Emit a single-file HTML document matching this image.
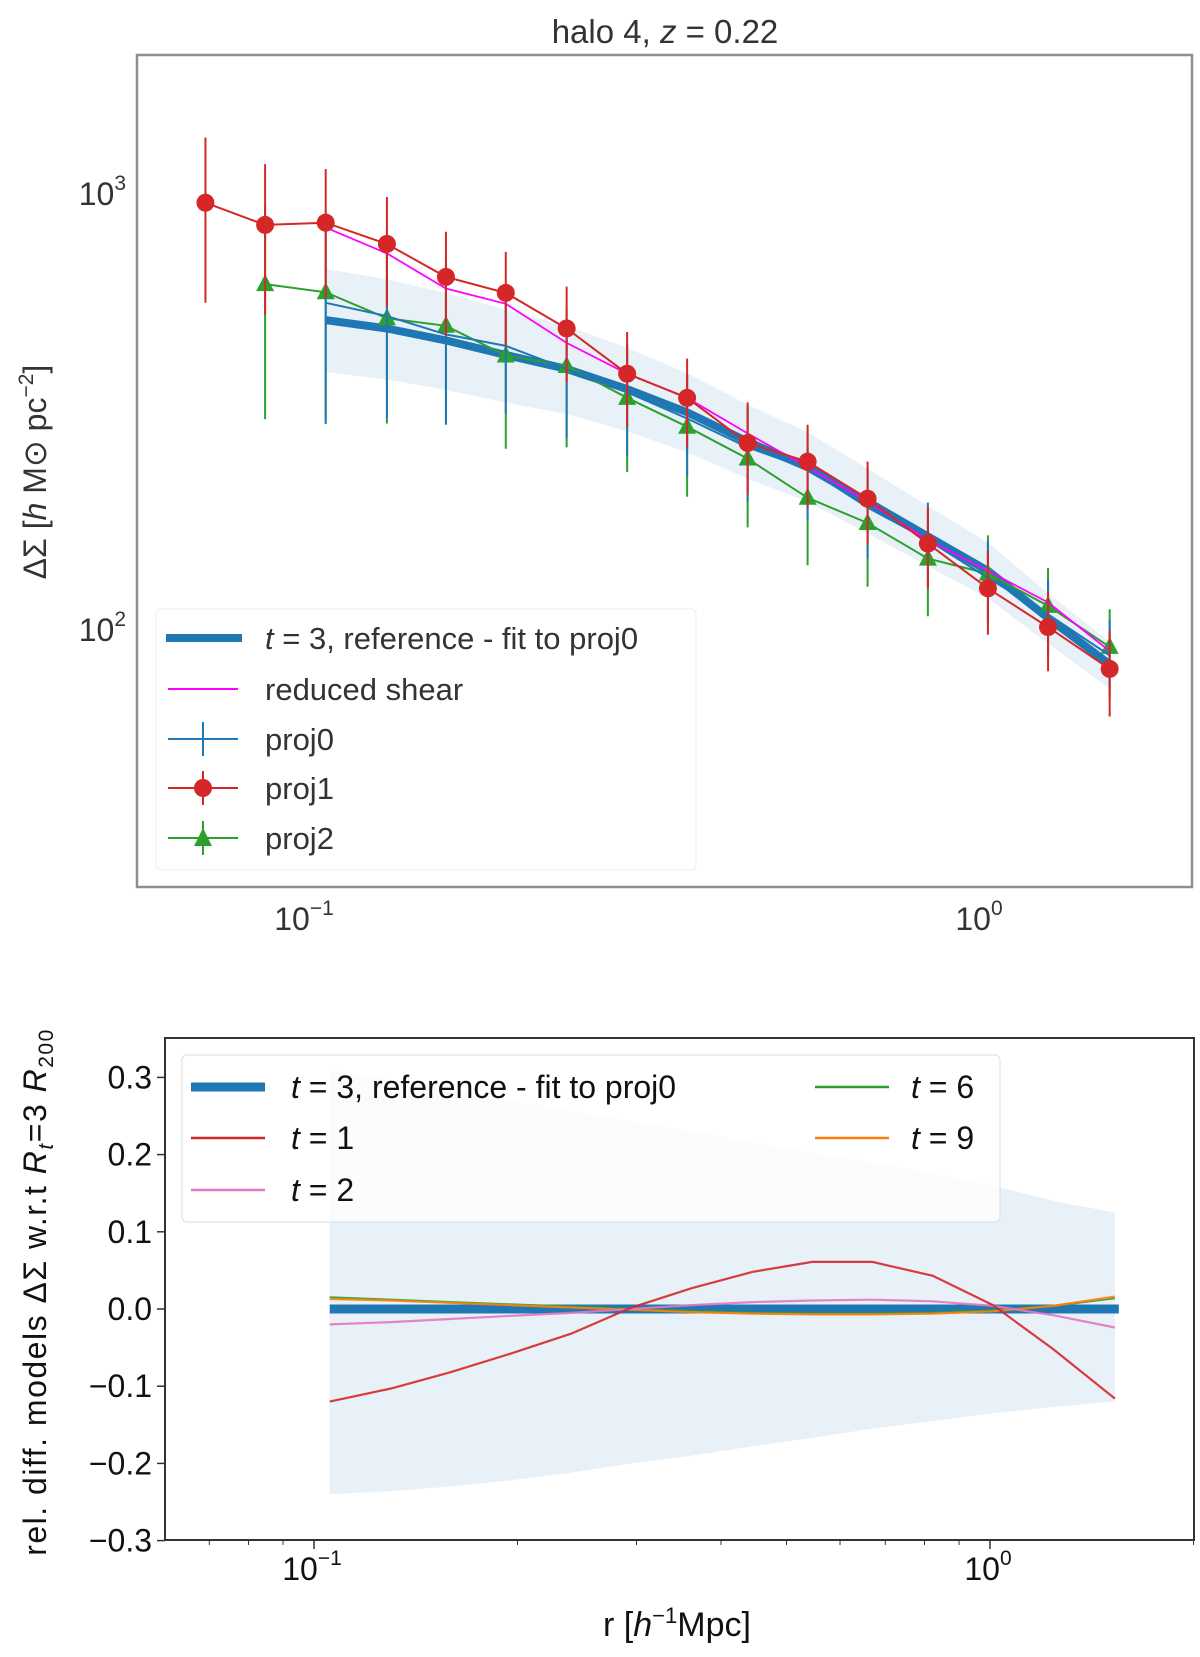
<!DOCTYPE html>
<html><head><meta charset="utf-8"><style>
html,body{margin:0;padding:0;background:#fff;}
svg{display:block;font-family:"Liberation Sans","DejaVu Sans",sans-serif;}
</style></head><body>
<svg id="fig" width="1200" height="1657" viewBox="0 0 1200 1657" xmlns="http://www.w3.org/2000/svg"></svg>
<script>
// ---- data ----
const radii = [0.070,0.0858,0.1055,0.130,0.159,0.195,0.240,0.295,0.362,0.445,0.546,0.670,0.823,1.01,1.24,1.53];
const proj1 = [950,845,855,764,642,590,489,385,339,267,242,199,157,124,101,81];
const proj1Err = [390,320,280,215,173,143,121,95,78,64,52,43,33,27,21,18];
const proj2 = [null,618,592,516,496,424,401,339,291,246,200,175,145,134,113,91];
const proj2Err = [null,315,290,220,200,165,140,110,90,75,60,50,38,30,25,20];
const proj0 = [null,null,560,522,474,446,395,349,304,261,233,190,160,131,108,87];
const proj0Err = [null,null,265,218,180,133,121,100,80,65,55,45,35,28,22,18];
const reducedShear = [null,null,833,727,604,557,453,385,339,281,235,196,160,136,115,89];
const refFit = [null,null,511,489,459,425,395,355,314,269,235,196,163,136,106,83];
const bandUp = [null,null,0.31,0.297,0.284,0.27,0.257,0.243,0.23,0.216,0.203,0.19,0.176,0.16,0.14,0.125];
const bandLo = [null,null,-0.24,-0.236,-0.23,-0.222,-0.212,-0.20,-0.19,-0.178,-0.167,-0.155,-0.145,-0.135,-0.127,-0.12];
const t1 = [null,null,-0.12,-0.103,-0.082,-0.058,-0.032,0.002,0.027,0.048,0.061,0.061,0.043,0.005,-0.052,-0.116];
const t2 = [null,null,-0.02,-0.017,-0.013,-0.009,-0.005,0.000,0.005,0.009,0.011,0.012,0.010,0.004,-0.008,-0.024];
const t6 = [null,null,0.015,0.012,0.009,0.006,0.003,0.000,-0.003,-0.005,-0.006,-0.006,-0.005,-0.002,0.004,0.014];
const t9 = [null,null,0.013,0.011,0.008,0.005,0.002,-0.001,-0.004,-0.006,-0.007,-0.007,-0.006,-0.003,0.004,0.016];
const bottomYTicks = [0.3,0.2,0.1,0.0,-0.1,-0.2,-0.3];
const bottomYTickLabels = ["0.3","0.2","0.1","0.0","\u22120.1","\u22120.2","\u22120.3"];

const NS="http://www.w3.org/2000/svg";
const svg=document.getElementById('fig');
function mk(tag,attrs,parent,text){const e=document.createElementNS(NS,tag);for(const k in attrs)e.setAttribute(k,attrs[k]);if(text!==undefined)e.textContent=text;(parent||svg).appendChild(e);return e;}

// ---- top axes ----
const TL=137,TR=1192,TT=55,TB=887;
const tx=v=>310+(Math.log10(v)+1)*675;
const ty=v=>193-(Math.log10(v)-3)*436;
const gTop=mk('g',{});


mk('rect',{x:TL,y:TT,width:TR-TL,height:TB-TT,fill:'#fff',stroke:'#8a9097','stroke-width':2.5},gTop);
const title=mk('text',{x:665,y:43,'font-size':33,'text-anchor':'middle',fill:'#333'},gTop);


title.innerHTML='halo 4, <tspan font-style="italic">z</tspan> = 0.22';

function pts(xs,ys,fx,fy){const a=[];for(let i=0;i<xs.length;i++){if(ys[i]!==null)a.push(fx(xs[i]).toFixed(1)+','+fy(ys[i]).toFixed(1));}return a;}
{const up=[],lo=[];for(let i=0;i<radii.length;i++){if(refFit[i]===null)continue;up.push(tx(radii[i])+','+ty(refFit[i]*(1+bandUp[i])));lo.unshift(tx(radii[i])+','+ty(refFit[i]*(1+bandLo[i])));}
const b=mk('polygon',{points:up.concat(lo).join(' '),fill:'#1f77b4','fill-opacity':0.1},gTop);

}
const refL=mk('polyline',{points:pts(radii,refFit,tx,ty).join(' '),fill:'none',stroke:'#1f77b4','stroke-width':8,'stroke-linejoin':'round'},gTop);


function errSeries(vals,errs,color,name,marker){
  const g=mk('g',{},gTop);
  
  
  for(let i=0;i<radii.length;i++){if(vals[i]===null)continue;const x=tx(radii[i]);
    const e=mk('line',{x1:x,x2:x,y1:ty(vals[i]+errs[i]),y2:ty(Math.max(vals[i]-errs[i],1)),stroke:color,'stroke-width':2},g);
    
    }
  mk('polyline',{points:pts(radii,vals,tx,ty).join(' '),fill:'none',stroke:color,'stroke-width':2},g);
  for(let i=0;i<radii.length;i++){if(vals[i]===null)continue;const x=tx(radii[i]),y=ty(vals[i]);let m;
    if(marker==='o')m=mk('circle',{cx:x,cy:y,r:9,fill:color},g);
    else if(marker==='^')m=mk('polygon',{points:`${x},${y-10} ${x-9},${y+7} ${x+9},${y+7}`,fill:color},g);
    if(m){
    }}
}
errSeries(proj2,proj2Err,'#2ca02c','proj2-series','^');
errSeries(proj0,proj0Err,'#1f77b4','proj0-series','');
const rs=mk('polyline',{points:pts(radii,reducedShear,tx,ty).join(' '),fill:'none',stroke:'#ff00ff','stroke-width':1.8},gTop);


errSeries(proj1,proj1Err,'#d62728','proj1-series','o');
[[1000,'3'],[100,'2']].forEach(([v,e])=>{const t=mk('text',{x:126,y:ty(v)+12,'font-size':32,'text-anchor':'end',fill:'#333'},gTop);


t.innerHTML='10<tspan dy="-15" font-size="21">'+e+'</tspan>';});
[[0.1,'\u22121'],[1,'0']].forEach(([v,e])=>{const t=mk('text',{x:tx(v)-6,y:930,'font-size':32,'text-anchor':'middle',fill:'#333'},gTop);


t.innerHTML='10<tspan dy="-15" font-size="21">'+e+'</tspan>';});
{const t=mk('text',{transform:'translate(46,472) rotate(-90)','font-size':32,'text-anchor':'middle',fill:'#333'},gTop);


t.innerHTML='\u0394\u03A3 [<tspan font-style="italic">h</tspan> M\u2299 pc<tspan dy="-13" font-size="21">\u22122</tspan><tspan dy="13">]</tspan>';}
{const g=mk('g',{},gTop);


mk('rect',{x:156,y:609,width:540,height:261,rx:5,fill:'#fff','fill-opacity':0.85,stroke:'#eee'},g);
const rows=[[638,'ref'],[689,'rs'],[739,'p0'],[788,'p1'],[838,'p2']];
const labels={ref:'<tspan font-style="italic">t</tspan> = 3, reference - fit to proj0',rs:'reduced shear',p0:'proj0',p1:'proj1',p2:'proj2'};
rows.forEach(([y,k])=>{
 if(k==='ref')mk('line',{x1:166,x2:242,y1:y,y2:y,stroke:'#1f77b4','stroke-width':8},g);
 if(k==='rs')mk('line',{x1:168,x2:238,y1:y,y2:y,stroke:'#ff00ff','stroke-width':2},g);
 if(k==='p0'){mk('line',{x1:168,x2:238,y1:y,y2:y,stroke:'#1f77b4','stroke-width':2},g);mk('line',{x1:203,x2:203,y1:y-17,y2:y+17,stroke:'#1f77b4','stroke-width':2},g);}
 if(k==='p1'){mk('line',{x1:168,x2:238,y1:y,y2:y,stroke:'#d62728','stroke-width':2},g);mk('line',{x1:203,x2:203,y1:y-17,y2:y+17,stroke:'#d62728','stroke-width':2},g);mk('circle',{cx:203,cy:y,r:9,fill:'#d62728'},g);}
 if(k==='p2'){mk('line',{x1:168,x2:238,y1:y,y2:y,stroke:'#2ca02c','stroke-width':2},g);mk('line',{x1:203,x2:203,y1:y-17,y2:y+17,stroke:'#2ca02c','stroke-width':2},g);mk('polygon',{points:`203,${y-10} 194,${y+8} 212,${y+8}`,fill:'#2ca02c'},g);}
 const t=mk('text',{x:265,y:y+11,'font-size':31,fill:'#333'},g);
 
 
 t.innerHTML=labels[k];
});}

// ---- bottom axes ----
const BL=165,BR=1194,BT=1038,BB=1540;
const bx=v=>314+(Math.log10(v)+1)*676;
const by=v=>1309-v*772;
const gB=mk('g',{});


mk('rect',{x:BL,y:BT,width:BR-BL,height:BB-BT,fill:'#fff',stroke:'#333','stroke-width':2},gB);
{const up=[],lo=[];for(let i=0;i<radii.length;i++){if(bandUp[i]===null)continue;up.push(bx(radii[i])+','+by(bandUp[i]));lo.unshift(bx(radii[i])+','+by(bandLo[i]));}
const b=mk('polygon',{points:up.concat(lo).join(' '),fill:'#1f77b4','fill-opacity':0.1},gB);

}
{const r=mk('line',{x1:bx(radii[2]),x2:bx(radii[15])+4,y1:by(0),y2:by(0),stroke:'#1f77b4','stroke-width':9},gB);

}
[[t6,'#2ca02c','t6-line'],[t9,'#ff7f0e','t9-line'],[t2,'#e377c2','t2-line'],[t1,'#d62728','t1-line']].forEach(([d,c,n])=>{
 const l=mk('polyline',{points:pts(radii,d,bx,by).join(' '),fill:'none',stroke:c,'stroke-width':2.2,'stroke-opacity':0.9},gB);
 
 });
bottomYTicks.forEach((v,i)=>{const y=by(v);mk('line',{x1:BL-8,x2:BL,y1:y,y2:y,stroke:'#333','stroke-width':1.5},gB);
 const t=mk('text',{x:152,y:y+11,'font-size':32,'text-anchor':'end',fill:'#111'},gB,bottomYTickLabels[i]);
 
 });
[0.07,0.08,0.09,0.2,0.3,0.4,0.5,0.6,0.7,0.8,0.9,2].forEach(v=>{const x=bx(v);if(x<BL||x>BR)return;mk('line',{x1:x,x2:x,y1:BB,y2:BB+5,stroke:'#333','stroke-width':1},gB);});
[[0.1,'\u22121'],[1,'0']].forEach(([v,e])=>{const x=bx(v);mk('line',{x1:x,x2:x,y1:BB,y2:BB+9,stroke:'#333','stroke-width':1.5},gB);
 const t=mk('text',{x:x-2,y:1580,'font-size':32,'text-anchor':'middle',fill:'#111'},gB);
 
 
 t.innerHTML='10<tspan dy="-15" font-size="21">'+e+'</tspan>';});
{const t=mk('text',{x:677,y:1636,'font-size':34,'text-anchor':'middle',fill:'#111'},gB);


t.innerHTML='r [<tspan font-style="italic">h</tspan><tspan dy="-13" font-size="22">\u22121</tspan><tspan dy="13">Mpc]</tspan>';}
{const t=mk('text',{transform:'translate(46,1292) rotate(-90)','font-size':32,'text-anchor':'middle',fill:'#111','letter-spacing':'1.5'},gB);


t.innerHTML='rel. diff. models \u0394\u03A3 w.r.t <tspan font-style="italic">R</tspan><tspan font-style="italic" font-size="21" dy="7">t</tspan><tspan dy="-7">=3 </tspan><tspan font-style="italic">R</tspan><tspan font-size="21" dy="7">200</tspan>';}
{const g=mk('g',{},gB);


mk('rect',{x:182,y:1055,width:818,height:167,rx:5,fill:'#fff','fill-opacity':0.8,stroke:'#ddd'},g);
const ents=[[191,291,1087,'#1f77b4',9,'<tspan font-style="italic">t</tspan> = 3, reference - fit to proj0'],
 [191,291,1138,'#d62728',2.5,'<tspan font-style="italic">t</tspan> = 1'],
 [191,291,1190,'#e377c2',2.5,'<tspan font-style="italic">t</tspan> = 2'],
 [815,911,1087,'#2ca02c',2.5,'<tspan font-style="italic">t</tspan> = 6'],
 [815,911,1138,'#ff7f0e',2.5,'<tspan font-style="italic">t</tspan> = 9']];
ents.forEach(([lx,txx,y,c,w,lab])=>{mk('line',{x1:lx,x2:lx+74,y1:y,y2:y,stroke:c,'stroke-width':w},g);
 const t=mk('text',{x:txx,y:y+11,'font-size':32,fill:'#111'},g);
 
 
 t.innerHTML=lab;});}
</script>
</body></html>
